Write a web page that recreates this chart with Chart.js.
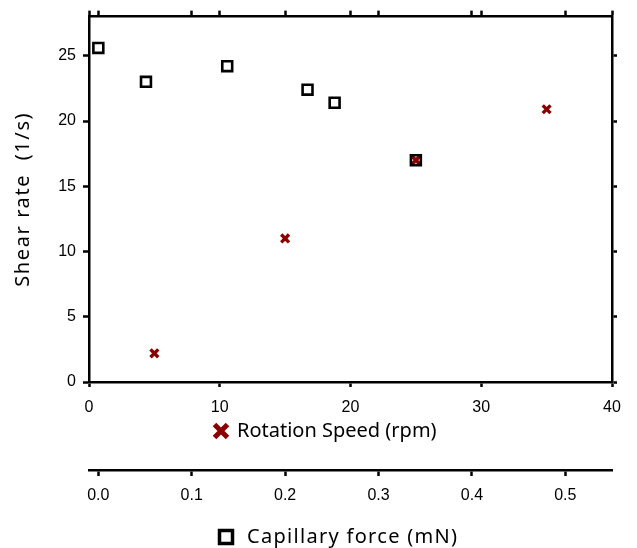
<!DOCTYPE html>
<html>
<head>
<meta charset="utf-8">
<script src="https://cdn.jsdelivr.net/npm/chart.js@4.4.1/dist/chart.umd.min.js"></script>
<style>
  html, body { margin: 0; padding: 0; background: #fff; }
  #wrap { width: 637px; height: 548px; }
</style>
</head>
<body>
<div id="wrap"><canvas id="myChart" width="637" height="548"></canvas></div>
<script>
// rotation speed series (crosses, bottom rpm axis)
const rpmValues = [5, 15, 25, 35]
const rpmShear = [2.2, 11.0, 17.0, 20.9]

// capillary force series (squares, lower capillary axis)
const capForce = [0.0, 0.051, 0.138, 0.224, 0.253, 0.340]
const capShear = [25.6, 23.0, 24.2, 22.4, 21.4, 17.0]

// tick labels
const rpmTicks = [0, 10, 20, 30, 40]
const capTicks = [0.0, 0.1, 0.2, 0.3, 0.4, 0.5]
const shearTicks = [0, 5, 10, 15, 20, 25]

const rpmMin = 0, rpmMax = 40
const capMin = -0.01, capMax = 0.55
const shearMin = 0, shearMax = 28

const darkRed = '#8b0000'
const tickFont = { family: '"Liberation Sans", Arial, sans-serif', size: 16 }
const titleFont = '"Noto Sans", "Open Sans", sans-serif'

function setTicks(values) {
    return (scale) => { scale.ticks = values.map(v => ({ value: v })) }
}

function axisLine(extra) {
    return Object.assign({
        grid: { drawOnChartArea: false, drawTicks: true, tickLength: 6, tickWidth: 2.5, tickColor: '#000' },
        border: { display: true, width: 2.5, color: '#000' }
    }, extra)
}

// axis titles, drawn by hand so the legend glyphs can sit next to them
const axisTitles = {
    id: 'axisTitles',
    afterDraw(chart) {
        const ctx = chart.ctx
        const xs = chart.scales.x
        const xs2 = chart.scales.x2
        const area = chart.chartArea
        ctx.save()
        ctx.fillStyle = '#000'
        ctx.font = '20px ' + titleFont
        ctx.textBaseline = 'alphabetic'
        ctx.textAlign = 'left'
        ctx.fillText('Rotation Speed (rpm)', xs.left + 148, xs.top + 55)
        ctx.letterSpacing = '1.3px'
        ctx.fillText('Capillary force (mN)', xs2.left + 158, xs2.top + 73)

        // y title
        ctx.save()
        ctx.letterSpacing = '1.6px'
        ctx.textAlign = 'center'
        ctx.textBaseline = 'middle'
        ctx.translate(23, (area.top + area.bottom) / 2)
        ctx.rotate(-Math.PI / 2)
        ctx.fillText('Shear rate  (1/s)', 0, 0)
        ctx.restore()

        // cross glyph
        let cx = xs.left + 132, cy = xs.top + 49, h = 6.5
        ctx.strokeStyle = darkRed
        ctx.lineWidth = 5
        ctx.beginPath()
        ctx.moveTo(cx - h, cy - h); ctx.lineTo(cx + h, cy + h)
        ctx.moveTo(cx + h, cy - h); ctx.lineTo(cx - h, cy + h)
        ctx.stroke()

        // square glyph
        cx = xs2.left + 137; cy = xs2.top + 67
        ctx.strokeStyle = '#000'
        ctx.lineWidth = 3.5
        ctx.strokeRect(cx - 6.5, cy - 6.5, 13, 13)
        ctx.restore()
    }
}

const ctx = document.getElementById('myChart')
const chart = new Chart(ctx, {
    type: 'scatter',
    data: {
        datasets: [
            {
                label: 'Rotation Speed (rpm)',
                data: rpmValues.map((v, i) => ({ x: v, y: rpmShear[i] })),
                xAxisID: 'x',
                yAxisID: 'y',
                pointStyle: 'crossRot',
                pointRadius: 5.5,
                borderColor: darkRed,
                borderWidth: 3.4,
                order: 2
            },
            {
                label: 'Capillary force (mN)',
                data: capForce.map((v, i) => ({ x: v, y: capShear[i] })),
                xAxisID: 'x2',
                yAxisID: 'y',
                pointStyle: 'rect',
                pointRadius: 7,
                borderColor: '#000',
                backgroundColor: 'rgba(0,0,0,0)',
                borderWidth: 2.6,
                order: 1
            }
        ]
    },
    options: {
        responsive: false,
        animation: false,
        clip: false,
        layout: { padding: 0 },
        plugins: {
            legend: { display: false },
            tooltip: { enabled: false }
        },
        scales: {
            x: axisLine({
                type: 'linear', position: 'bottom', min: rpmMin, max: rpmMax,
                afterBuildTicks: setTicks(rpmTicks),
                afterFit: (s) => { s.height = 88 },
                grid: { drawOnChartArea: false, tickLength: 5, tickWidth: 2.5, tickColor: '#000' },
                ticks: { color: '#000', font: tickFont, padding: 11, maxRotation: 0 }
            }),
            x2: axisLine({
                type: 'linear', position: 'bottom', min: capMin, max: capMax,
                afterBuildTicks: setTicks(capTicks),
                afterFit: (s) => { s.height = 78 },
                ticks: { color: '#000', font: tickFont, padding: 10, maxRotation: 0, callback: (v) => v.toFixed(1) }
            }),
            top: axisLine({
                type: 'linear', position: 'top', min: rpmMin, max: rpmMax,
                // top edge carries the tick marks of both x axes
                afterBuildTicks: (s) => {
                    const both = rpmTicks.concat(capTicks.map(c => (c - capMin) / (capMax - capMin) * (rpmMax - rpmMin) + rpmMin))
                    s.ticks = both.map(v => ({ value: v }))
                },
                afterFit: (s) => { s.height = 16 },
                ticks: { display: false }
            }),
            y: axisLine({
                type: 'linear', position: 'left', min: shearMin, max: shearMax,
                afterBuildTicks: setTicks(shearTicks),
                afterFit: (s) => { s.width = 89 },
                ticks: { color: '#000', font: tickFont, padding: 7 }
            }),
            right: axisLine({
                type: 'linear', position: 'right', min: shearMin, max: shearMax,
                afterBuildTicks: setTicks(shearTicks),
                afterFit: (s) => { s.width = 25 },
                grid: { drawOnChartArea: false, tickLength: 5, tickWidth: 2.5, tickColor: '#000' },
                ticks: { display: false }
            })
        }
    },
    plugins: [axisTitles]
})
</script>
</body>
</html>
